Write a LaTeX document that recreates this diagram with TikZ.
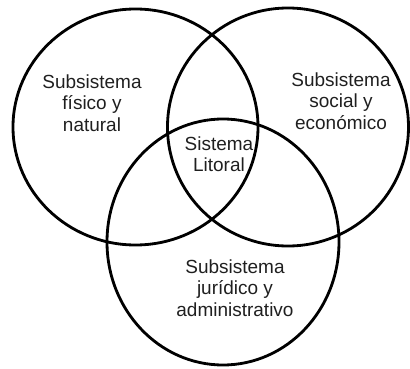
\documentclass[tikz,border=0pt]{standalone}
\usepackage{fontspec}
\setmainfont{Liberation Sans}
\tikzset{
  venn/.style={draw=black, line width=2pt},
  lbl/.style={align=center, text=black!88, font=\fontsize{13.5}{15.3}\selectfont, inner sep=0pt}
}
\begin{document}
\begin{tikzpicture}[x=0.025cm, y=-0.025cm]
\useasboundingbox (0,0) rectangle (410,369);
\draw[venn] (135.5,127) ellipse [x radius=122.5, y radius=118];
\draw[venn] (288,127) ellipse [x radius=120.5, y radius=119];
\draw[venn] (223,242) ellipse [x radius=116, y radius=123];
\node[lbl] (fis) at (92,103) {Subsistema\\físico y\\natural};
\node[lbl] (soc) at (341,101) {Subsistema\\social y\\económico};
\node[lbl] (lit) at (219,154) {Sistema\\Litoral};
\node[lbl] (jur) at (235,288) {Subsistema\\jurídico y\\administrativo};
\end{tikzpicture}
\end{document}
